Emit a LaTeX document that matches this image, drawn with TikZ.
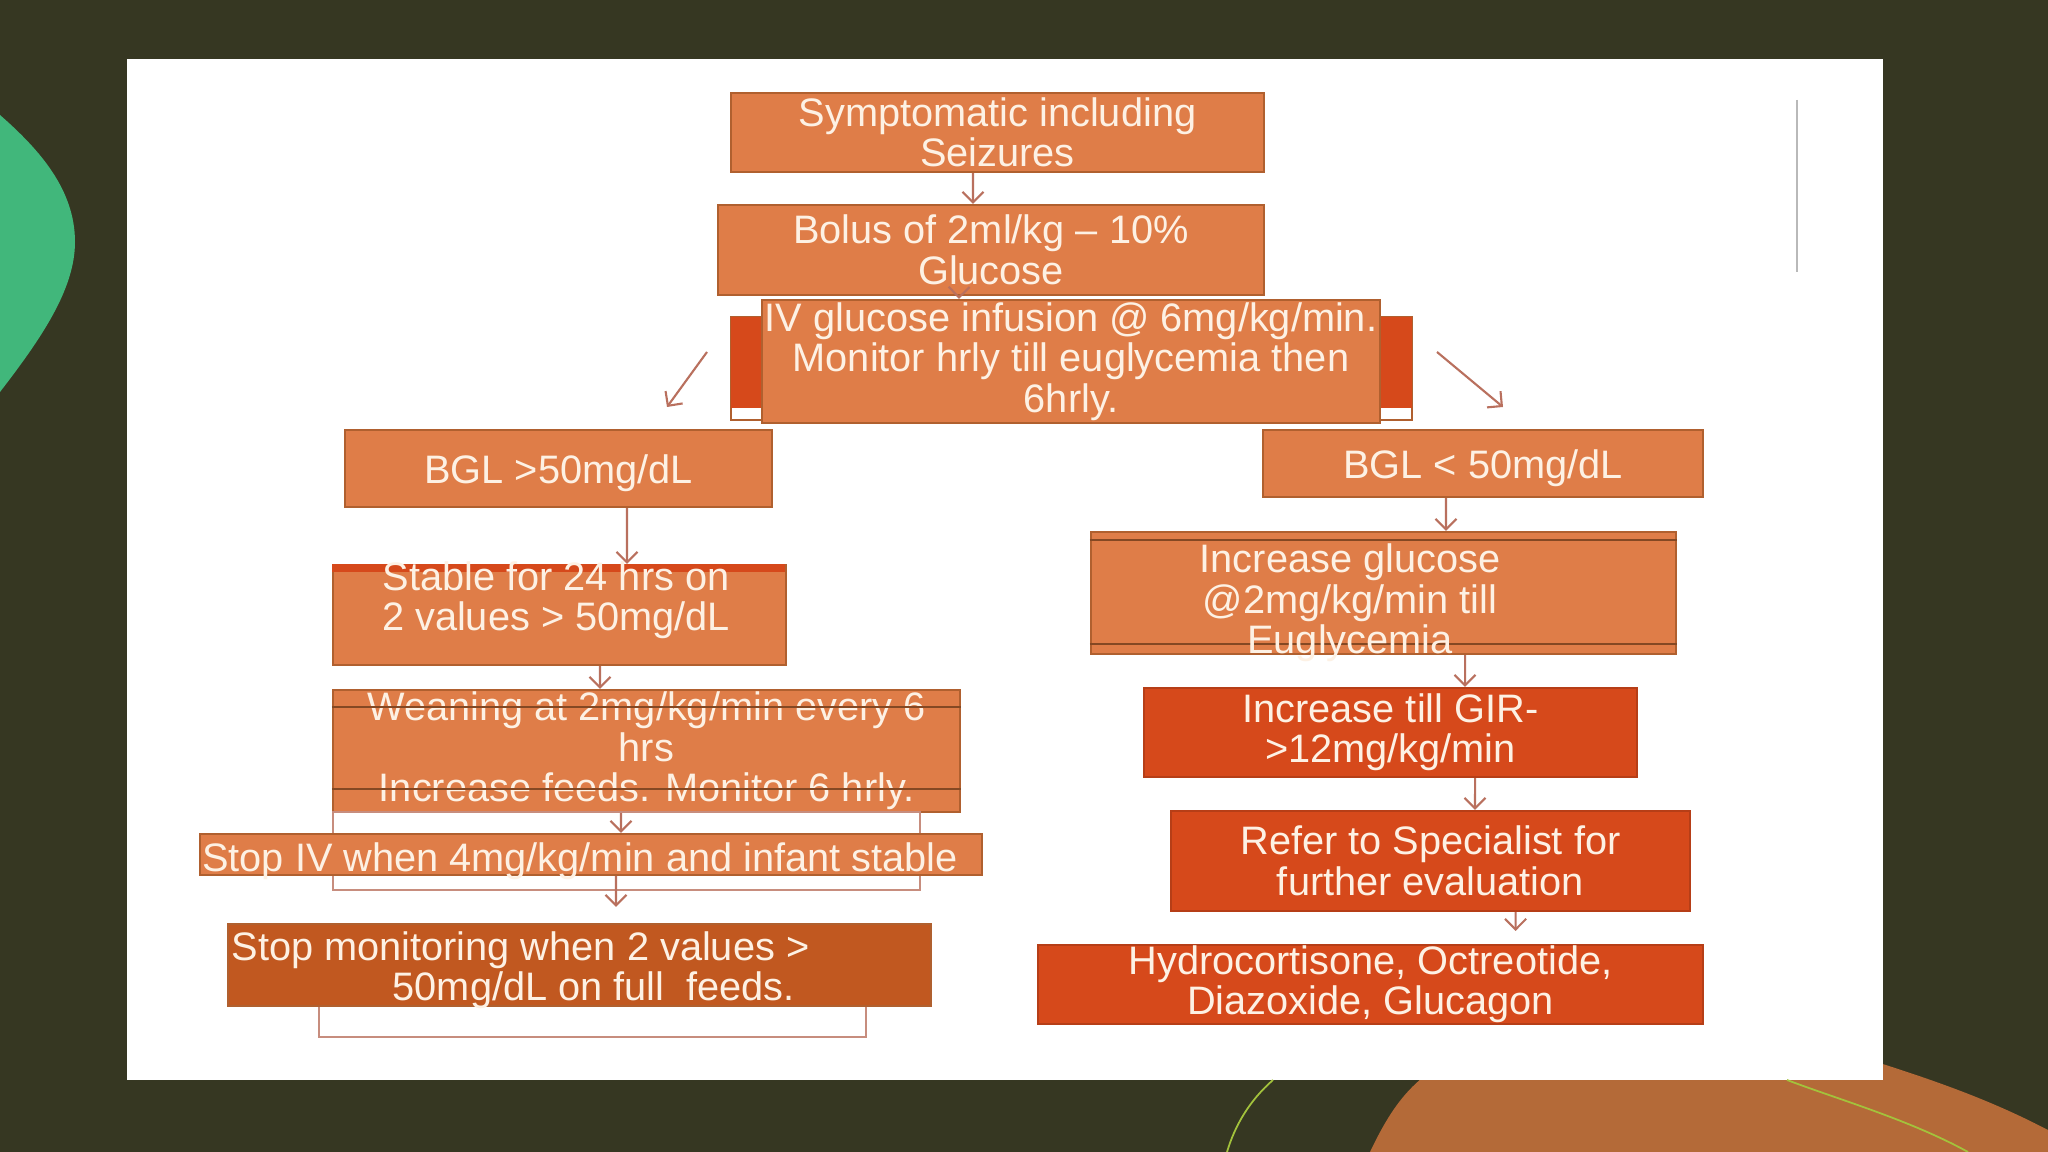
\documentclass[tikz,border=0pt]{standalone}
\usepackage{fontspec}
\setmainfont{Liberation Sans}
\usetikzlibrary{arrows.meta}
\definecolor{slidebg}{HTML}{363722}
\definecolor{leafgreen}{HTML}{41B77B}
\definecolor{clay}{HTML}{B46A38}
\definecolor{lime}{HTML}{A3C23C}
\definecolor{lightor}{HTML}{DF7D48}
\definecolor{deepor}{HTML}{D6491B}
\definecolor{brownor}{HTML}{C15820}
\definecolor{edge}{HTML}{B0602F}
\definecolor{cream}{HTML}{FDF1E4}
\definecolor{arrowc}{HTML}{B9705E}
\newcommand{\flowfont}{\fontsize{11.3}{11.5}\selectfont}

\begin{document}
\begin{tikzpicture}[
  x=0.01cm, y=-0.01cm,
  box/.style={draw=edge, line width=0.6pt, fill=lightor, text=cream,
    font=\flowfont, align=center, inner sep=0pt,
    execute at begin node={\rule{0pt}{11.1pt}}},
  hot/.style={box, fill=deepor, draw=deepor!85!black},
  txt/.style={text=cream, font=\flowfont, align=center, inner sep=0pt},
  flow/.style={arrowc, line width=0.6pt, -{Straight Barb[length=3pt,width=6pt]}},
  ghost/.style={draw=arrowc!80, line width=0.6pt, fill=white},
  seam/.style={edge!75!black, line width=0.5pt}
]
\useasboundingbox (0,0) rectangle (2048,1152);
% slide background
\fill[slidebg] (0,0) rectangle (2048,1152);
\fill[leafgreen] (0,115) .. controls (40,150) and (75,190) .. (75,242)
  .. controls (75,290) and (40,340) .. (0,392) -- cycle;
\fill[clay] (1370,1152) .. controls (1390,1110) and (1410,1080) .. (1450,1060)
  -- (1870,1060) .. controls (1950,1085) and (2000,1105) .. (2048,1130)
  -- (2048,1152) -- cycle;
\fill[white] (127,59) rectangle (1883,1080);
\draw[lime, line width=0.5pt] (1273,1080) .. controls (1250,1100) and (1235,1125) .. (1227,1152);
\draw[lime, line width=0.5pt] (1787,1080) .. controls (1840,1100) and (1910,1120) .. (1968,1152);
\draw[gray!55, line width=0.6pt] (1797,100) -- (1797,272);

% top of the chart
\node[box, minimum width=5.33cm, minimum height=0.79cm] (sympt) at (997.5,132.5)
  {Symptomatic including\\Seizures};
\node[box, minimum width=5.46cm, minimum height=0.90cm] (bolus) at (991,250)
  {Bolus of 2ml/kg – 10\%\\Glucose};
\draw[draw=edge, fill=white] (731,317) rectangle (1412,420);
\fill[deepor] (731,317) rectangle (1412,408);
\node[box, minimum width=6.18cm, minimum height=1.23cm] (iv) at (1071,361.5)
  {IV glucose infusion @ 6mg/kg/min.\\Monitor hrly till euglycemia then\\6hrly.};

% left branch
\node[box, minimum width=4.27cm, minimum height=0.77cm] (bglhi) at (558.5,468.5)
  {BGL >50mg/dL};
\node[box, minimum width=4.53cm, minimum height=1.00cm] (stable) at (559.5,615) {};
\fill[deepor] (stable.north west) rectangle ++(453,8);
\node[txt] (stabletxt) at (556,600) {Stable for 24 hrs on\\2 values > 50mg/dL};
\node[box, minimum width=6.27cm, minimum height=1.22cm] (wean) at (646.5,751)
  {Weaning at 2mg/kg/min every 6\\hrs\\Increase feeds. Monitor 6 hrly.};
\draw[seam] ([yshift=-0.18cm]wean.north west) -- ([yshift=-0.18cm]wean.north east);
\draw[seam] ([yshift=0.24cm]wean.south west) -- ([yshift=0.24cm]wean.south east);
\draw[ghost] (333,812) rectangle (920,890);
\node[box, execute at begin node={}, text height=9.4pt, text depth=0pt,
  minimum width=7.82cm, minimum height=0.41cm] (stopiv) at (591,854.5)
  {Stop IV when 4mg/kg/min and infant stable\hspace*{0.22cm}};
\draw[ghost] (319,1000) rectangle (866,1037);
\node[box, fill=brownor, minimum width=7.03cm, minimum height=0.82cm] (stopmon) at (579.5,965) {};
\node[txt, align=left, anchor=west] (stopmontxt) at (231,970)
  {Stop monitoring when 2 values >\\\hspace*{1.61cm}50mg/dL on full \ feeds.};

% right branch
\node[box, minimum width=4.40cm, minimum height=0.67cm] (bgllo) at (1483,463.5)
  {BGL < 50mg/dL};
\node[box, minimum width=5.85cm, minimum height=1.22cm] (incgl) at (1383.5,593) {};
\draw[seam] ([yshift=-0.09cm]incgl.north west) -- ([yshift=-0.09cm]incgl.north east);
\draw[seam] ([yshift=0.11cm]incgl.south west) -- ([yshift=0.11cm]incgl.south east);
\node[txt] (incgltxt) at (1350,603) {Increase glucose\\@2mg/kg/min till\\Euglycemia};
\node[hot, minimum width=4.93cm, minimum height=0.89cm] (gir) at (1390.5,732.5)
  {Increase till GIR-\\>12mg/kg/min};
\node[hot, minimum width=5.19cm, minimum height=1.00cm] (refer) at (1430.5,861)
  {Refer to Specialist for\\further evaluation};
\node[hot, minimum width=6.65cm, minimum height=0.79cm] (hydro) at (1370.5,984.5)
  {Hydrocortisone, Octreotide,\\Diazoxide, Glucagon};

% connectors
\coordinate (ivleft) at (707,352);
\coordinate (hitip) at (667,407);
\coordinate (ivright) at (1437,352);
\coordinate (lotip) at (1503,407);
\draw[flow] ([xshift=-0.245cm]sympt.south) -- ([xshift=-0.18cm]bolus.north);
\draw[flow] ([xshift=-0.32cm]bolus.south) -- ([xshift=-1.12cm]iv.north);
\draw[flow] (ivleft) -- (hitip);
\draw[flow] (ivright) -- (lotip);
\draw[flow] ([xshift=0.685cm]bglhi.south) -- ([xshift=0.675cm]stable.north);
\draw[flow] ([xshift=0.405cm]stable.south) -- ([xshift=-0.465cm]wean.north);
\draw[flow] ([xshift=-0.255cm]wean.south) -- ([xshift=0.3cm]stopiv.north);
\draw[flow, shorten >=0.16cm] ([xshift=0.25cm]stopiv.south) -- ([xshift=0.365cm]stopmon.north);
\draw[flow] ([xshift=-0.37cm]bgllo.south) -- ([xshift=0.625cm]incgl.north);
\draw[flow] ([xshift=0.815cm]incgl.south) -- ([xshift=0.745cm]gir.north);
\draw[flow] ([xshift=0.845cm]gir.south) -- ([xshift=0.445cm]refer.north);
\draw[flow, shorten >=0.13cm] ([xshift=0.85cm]refer.south) -- ([xshift=1.45cm]hydro.north);
\end{tikzpicture}
\end{document}
